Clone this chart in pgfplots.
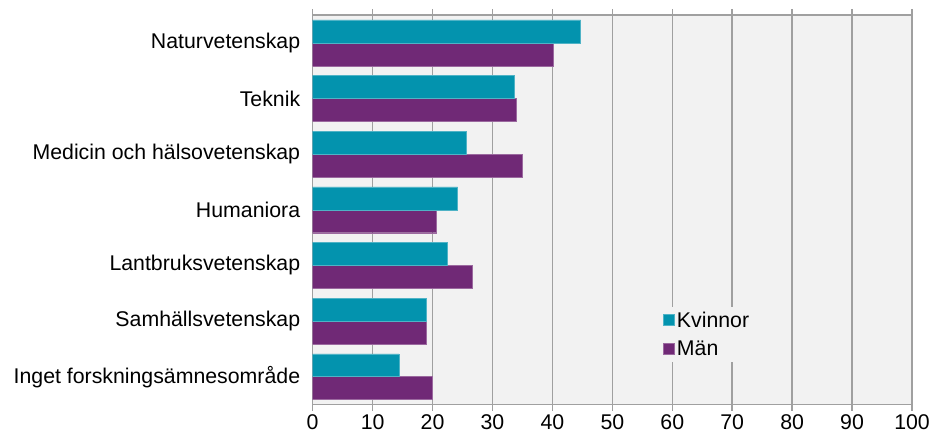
\documentclass[border=0pt]{standalone}
\usepackage{pgfplots}
\pgfplotsset{compat=1.18}
\usepackage{fontspec}
\setmainfont{Liberation Sans}
\definecolor{teal1}{RGB}{3,147,174}
\definecolor{purp1}{RGB}{112,41,118}
\definecolor{bggray}{RGB}{242,242,242}
\definecolor{grid1}{RGB}{160,160,160}
\begin{document}
\begin{tikzpicture}
\begin{axis}[
  name=ax,
  scale only axis,
  width=600bp, height=390bp,
  xbar=0pt,
  bar width=23bp,
  xmin=0, xmax=100,
  ymin=-0.5, ymax=6.5,
  y dir=reverse,
  xtick={0,10,...,100},
  ytick={0,1,2,3,4,5,6},
  yticklabels={Naturvetenskap,Teknik,Medicin och hälsovetenskap,Humaniora,Lantbruksvetenskap,Samhällsvetenskap,Inget forskningsämnesområde},
  /pgf/number format/assume math mode=true,
  tick label style={font=\fontsize{21.4}{25}\selectfont},
  xticklabel style={yshift=-1bp},
  yticklabel style={xshift=-3bp},
  major y tick style={draw=none},
  major x tick style={draw=grid1, line width=1.5bp},
  xtick align=outside,
  major tick length=6bp,
  xmajorgrids,
  grid style={draw=grid1, line width=1.5bp},
  axis background/.style={fill=bggray},
  axis line style={draw=grid1, line width=1.5bp},
  legend style={at={(rel axis cs:0.58,0.252)}, anchor=north west, draw=none, fill=bggray,
     font=\fontsize{21.4}{25}\selectfont, row sep=8bp, inner sep=3bp},
  legend cell align=left,
  reverse legend,
  legend image code/.code={\fill[#1] (0bp,-5.5bp) rectangle (11bp,5.5bp);},
]
\addplot[fill=purp1, draw=purp1!70!white, line width=0.5pt] coordinates {
(40.1,0) (33.9,1) (34.9,2) (20.7,3) (26.6,4) (18.9,5) (19.9,6)};
\addplot[fill=teal1, draw=teal1!70!white, line width=0.5pt] coordinates {
(44.7,0) (33.6,1) (25.7,2) (24.2,3) (22.5,4) (18.9,5) (14.4,6)};
\legend{Män, Kvinnor}
\end{axis}
\path[use as bounding box] ([xshift=-313bp,yshift=-34bp]ax.south west) rectangle ([xshift=25bp,yshift=15bp]ax.north east);
\end{tikzpicture}
\end{document}
